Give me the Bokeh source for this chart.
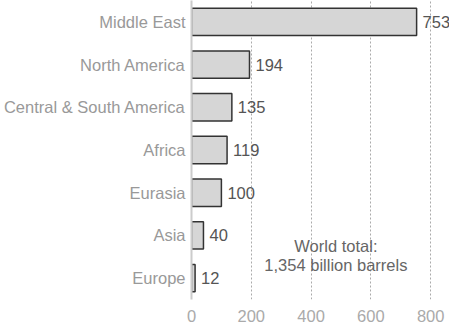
from bokeh.plotting import figure
from bokeh.models import Range1d, FactorRange, ColumnDataSource, FixedTicker, Label
from bokeh.core.properties import value
from bokeh.embed import file_html
from bokeh.resources import INLINE

regions = ["Middle East", "North America", "Central & South America", "Africa",
           "Eurasia", "Asia", "Europe"]
reserves = [753, 194, 135, 119, 100, 40, 12]
x_ticks = [0, 200, 400, 600, 800]
note_lines = ["World total:", "1,354 billion barrels"]

FONT = "Liberation Sans"

src = ColumnDataSource(dict(
    region=regions,
    val=reserves,
    lbl=[str(v) for v in reserves],
))

p = figure(width=449, height=326, output_backend="svg", toolbar_location=None,
           y_range=FactorRange(factors=list(reversed(regions)), range_padding=0),
           x_range=Range1d(0, 863),
           min_border_left=190, min_border_right=0, min_border_top=0,
           min_border_bottom=27)
p.outline_line_color = None
p.background_fill_color = "white"

p.hbar(y="region", right="val", left=0, height=0.64, source=src,
       fill_color="#d6d6d6", line_color="#333333", line_width=1.5)

p.text(x="val", y="region", text="lbl", source=src, x_offset=6,
       text_baseline="middle", text_align="left", text_color="#555555",
       text_font=value(FONT), text_font_size="16.5px")

# annotation
p.add_layout(Label(x=483, y=54, y_units="screen", text=note_lines[0], text_align="center",
                   text_color="#666666", text_font=FONT, text_font_size="16.5px",
                   text_baseline="middle"))
p.add_layout(Label(x=483, y=35, y_units="screen", text=note_lines[1], text_align="center",
                   text_color="#666666", text_font=FONT, text_font_size="16.5px",
                   text_baseline="middle"))

# grid
p.ygrid.grid_line_color = None
p.xgrid.ticker = FixedTicker(ticks=x_ticks[1:])
p.xgrid.grid_line_color = "#aaaaaa"
p.xgrid.grid_line_dash = "2 2"
p.xgrid.grid_line_width = 1

# x axis
p.xaxis.ticker = FixedTicker(ticks=x_ticks)
p.xaxis.axis_line_color = None
p.xaxis.major_tick_line_color = None
p.xaxis.minor_tick_line_color = None
p.xaxis.major_tick_out = 0
p.xaxis.major_label_standoff = 10
p.xaxis.major_label_text_color = "#aaaaaa"
p.xaxis.major_label_text_font = FONT
p.xaxis.major_label_text_font_size = "16.5px"

# y axis
p.yaxis.axis_line_color = "#cccccc"
p.yaxis.axis_line_width = 2
p.yaxis.major_tick_line_color = None
p.yaxis.minor_tick_line_color = None
p.yaxis.major_tick_out = 0
p.yaxis.major_label_standoff = 6
p.yaxis.major_label_text_color = "#999999"
p.yaxis.major_label_text_font = FONT
p.yaxis.major_label_text_font_size = "16.5px"

open("out.html", "w").write(file_html(p, INLINE))
